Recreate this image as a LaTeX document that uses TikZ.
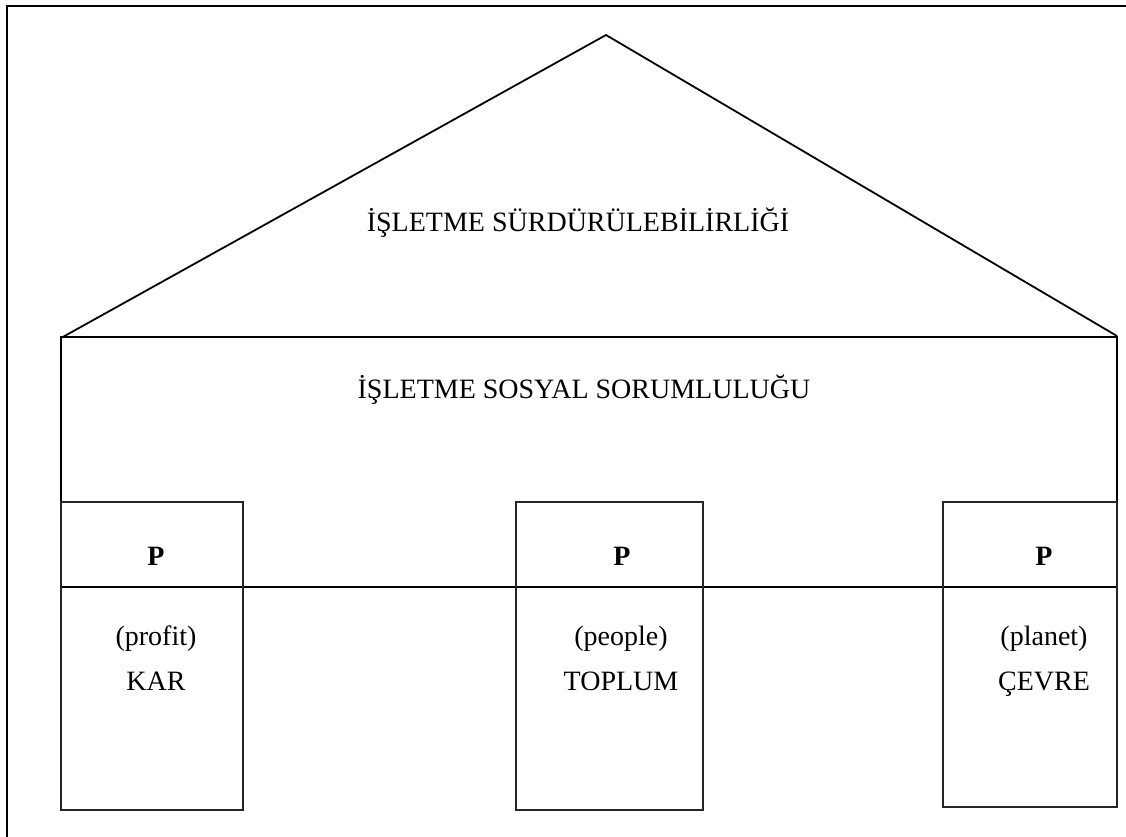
\documentclass[tikz,border=0pt]{standalone}
\usepackage{fontspec}
\setmainfont{Liberation Serif}
\begin{document}
\begin{tikzpicture}[x=1pt,y=-1pt,
  frame/.style={line width=2.2pt},
  wall/.style={line width=1.8pt, line join=miter},
  pillar/.style={line width=1.4pt, draw=black!85},
  lbl/.style={font=\fontsize{28}{34}\selectfont, anchor=base, inner sep=0pt},
  pmark/.style={font=\fontsize{28}{34}\selectfont\bfseries, anchor=base, inner sep=0pt}]
\useasboundingbox (0,0) rectangle (1126,837);
% outer frame (top and left edges)
\draw[frame] (7,837) -- (7,6) -- (1126,6);
% roof
\coordinate (apex) at (606,35);
\coordinate (eaveL) at (61,338);
\coordinate (eaveR) at (1117,336);
\draw[wall] (eaveL) -- (apex) -- (eaveR);
% wall band
\coordinate (wallSW) at (61,587);
\coordinate (wallNE) at (1117,337);
\draw[wall] (wallSW) rectangle (wallNE);
% pillars
\draw[pillar] (61,502) rectangle (243,810);
\draw[pillar] (516,502) rectangle (703,810);
\draw[pillar] (943,502) rectangle (1117,807);
% texts
\node[lbl] (roof) at (578,231) {İŞLETME SÜRDÜRÜLEBİLİRLİĞİ};
\node[lbl] (csr) at (584,398) {İŞLETME SOSYAL SORUMLULUĞU};
\node[pmark] (p1) at (156,565) {P};
\node[pmark] (p2) at (622,565) {P};
\node[pmark] (p3) at (1044,565) {P};
\node[lbl] (e1) at (156,645) {(profit)};
\node[lbl] (k1) at (156,690) {KAR};
\node[lbl] (e2) at (621,645) {(people)};
\node[lbl] (k2) at (621,690) {TOPLUM};
\node[lbl] (e3) at (1044,645) {(planet)};
\node[lbl] (k3) at (1044,690) {ÇEVRE};
\end{tikzpicture}
\end{document}
